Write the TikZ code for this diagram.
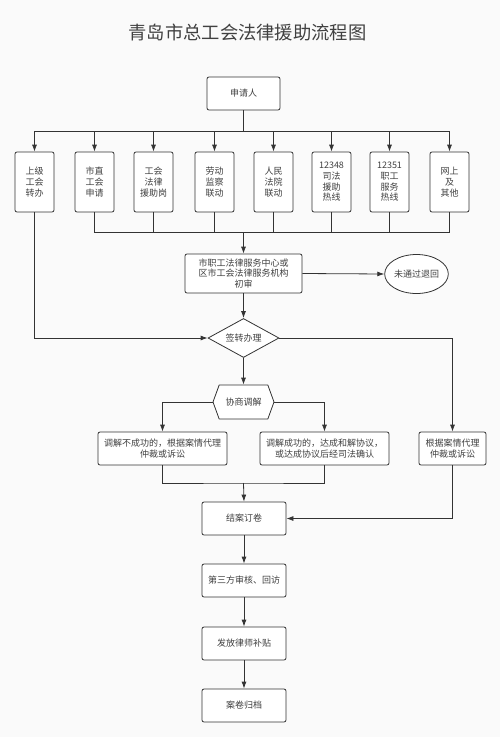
\documentclass[tikz,border=0pt]{standalone}
\usepackage{fontspec}
\setmainfont{Noto Sans CJK SC}
\usetikzlibrary{arrows.meta}
\usetikzlibrary{shapes.geometric,shapes.symbols}
\definecolor{linegray}{HTML}{333333}
\definecolor{textgray}{HTML}{404040}
\definecolor{paper}{HTML}{FAFAFA}
\tikzset{
  every picture/.style={
    line width=0.8pt, color=linegray,
    >={Latex[width=5pt, length=7pt]}
  },
  box/.style={
    draw=linegray, fill=white, rounded corners=2pt,
    align=center, inner sep=0pt, text=textgray,
    font=\fontsize{9}{10.7}\selectfont
  }
}

\begin{document}
\begin{tikzpicture}[
    x=1pt, y=-1pt,
    srcbox/.style={box, minimum width=39pt, minimum height=60pt},
    stepbox/.style={box, minimum width=84pt, minimum height=33pt},
    widebox/.style={box, minimum width=129pt, minimum height=33pt}
  ]
  \fill[paper] (0,0) rectangle (500,737);
  \useasboundingbox (0,0) rectangle (500,737);

  \node[text=textgray, font=\fontsize{18.3}{22}\selectfont] (title) at (247.5,32) {青岛市总工会法律援助流程图};
  \node[box, minimum width=73pt, minimum height=33pt] (apply) at (243.5,93.5) {申请人};

  % eight ways in
  \foreach \n/\x/\txt in {1/34.5/{上级\\工会\\转办}, 2/94.5/{市直\\工会\\申请},
      3/153.5/{工会\\法律\\援助岗}, 4/214.5/{劳动\\监察\\联动},
      5/273.5/{人民\\法院\\联动}, 6/331.5/{12348\\司法\\援助\\热线},
      7/389.5/{12351\\职工\\服务\\热线}, 8/449.5/{网上\\及\\其他}}
    \node[srcbox] (src\n) at (\x,182) {\txt};

  \node[box, minimum width=117pt, minimum height=39pt] (check) at (243.5,273.5)
    {市职工法律服务中心或\\区市工会法律服务机构\\初审};
  \node[box, ellipse, rounded corners=0pt, minimum width=59pt, minimum height=39pt] (reject) at (416.5,274) {未通过退回};
  \node[box, diamond, rounded corners=0pt, aspect=1.8, minimum width=71pt, minimum height=39pt] (sign) at (243.5,338) {签转办理};
  \node[box, signal, signal to=west and east, signal pointer angle=140, rounded corners=0pt,
    minimum width=61pt, minimum height=34pt] (mediate) at (243.5,402) {协商调解};

  \node[widebox] (fail) at (162.5,448.5) {调解不成功的，根据案情代理\\仲裁或诉讼};
  \node[widebox] (success) at (324.5,448.5) {调解成功的，达成和解协议，\\或达成协议后经司法确认};
  \node[box, minimum width=67pt, minimum height=33pt] (direct) at (452.5,448.5) {根据案情代理\\仲裁或诉讼};

  \node[stepbox] (close) at (244,518.5) {结案订卷};
  \node[stepbox] (review) at (244,580.5) {第三方审核、回访};
  \node[stepbox] (subsidy) at (244,643.5) {发放律师补贴};
  \node[stepbox] (archive) at (244,705.5) {案卷归档};

  \coordinate (topbus) at (243.5,131);
  \coordinate (botbus) at (243.5,232.7);
  \coordinate (merge) at (243.5,483);

  \draw (apply.south) -- (topbus);
  \draw (src1 |- topbus) -- (src8 |- topbus);
  \foreach \n in {1,...,8}
    \draw[->] (src\n |- topbus) -- (src\n.north);
  \draw (src2 |- botbus) -- (src8 |- botbus);
  \foreach \n in {2,...,8}
    \draw (src\n.south) -- (src\n |- botbus);
  \draw[->] (botbus) -- (check.north);

  \draw[->] (check.east) -- (reject.west);
  \draw[->] (check.south) -- (sign.north);
  \draw[->] (src1.south) |- (sign.west);
  \draw[->] (sign.east) -| (direct.north);
  \draw[->] (sign.south) -- (mediate.north);
  \draw[->] (mediate.west) -| (fail.north);
  \draw[->] (mediate.east) -| (success.north);

  \draw (fail.south) |- (merge) -| (success.south);
  \draw[->] (merge) -- (close.north);
  \draw[->] (direct.south) |- (close.east);

  \draw[->] (close) -- (review);
  \draw[->] (review) -- (subsidy);
  \draw[->] (subsidy) -- (archive);
\end{tikzpicture}
\end{document}
